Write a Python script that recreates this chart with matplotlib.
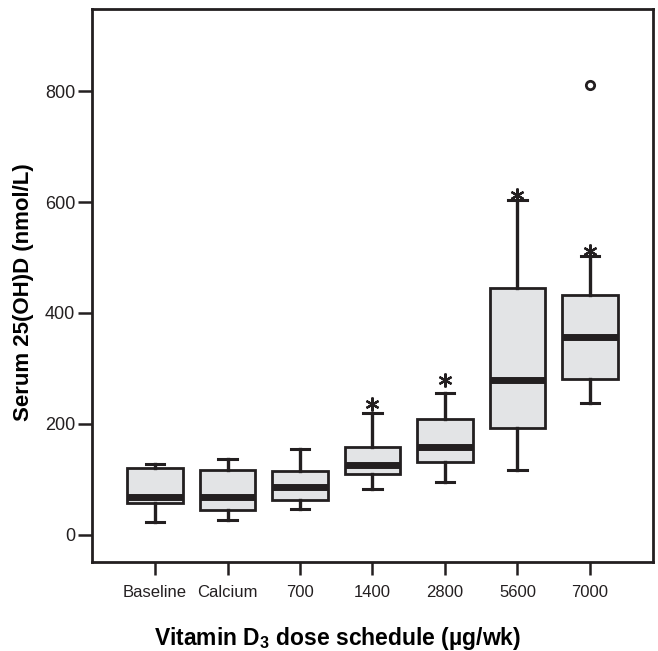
import matplotlib
matplotlib.use("Agg")
import matplotlib.pyplot as plt

categories = ["Baseline", "Calcium", "700", "1400", "2800", "5600", "7000"]
whislo = [23, 26, 47, 83, 95, 117, 237]
q1 = [57, 44, 62, 109, 131, 193, 281]
med = [69, 68, 87, 126, 158, 279, 356]
q3 = [120, 117, 115, 159, 208, 445, 432]
whishi = [127, 137, 154, 219, 255, 604, 503]
outliers = [[], [], [], [], [], [], [811]]
# significance asterisks (category index, plotted level)
star_idx = [3, 4, 5, 6]
star_val = [236, 279, 613, 512]
yticks = [0, 200, 400, 600, 800]

plt.rcParams['font.family'] = ['Liberation Sans', 'DejaVu Sans']
fig = plt.figure(figsize=(6.58, 6.51), dpi=100)
ax = fig.add_axes([0.1398, 0.1367, 0.8526, 0.8495])

dark = "#231f20"
stats = []
for i, c in enumerate(categories):
    stats.append(dict(label=c, whislo=whislo[i], q1=q1[i], med=med[i], q3=q3[i],
                      whishi=whishi[i], fliers=outliers[i]))
pos = list(range(1, len(categories) + 1))
ax.bxp(stats, positions=pos, widths=0.77, patch_artist=True, showfliers=True,
       boxprops=dict(facecolor="#e3e4e6", edgecolor=dark, linewidth=2),
       medianprops=dict(color=dark, linewidth=5, solid_capstyle="butt"),
       whiskerprops=dict(color=dark, linewidth=2.4),
       capprops=dict(color=dark, linewidth=2.2),
       capwidths=0.25,
       flierprops=dict(marker="o", markersize=6, markerfacecolor="white",
                       markeredgecolor=dark, markeredgewidth=2))

ax.plot([pos[i] for i in star_idx], star_val, linestyle="none",
        marker=(6, 2, 0), markersize=10, markeredgewidth=1.6,
        color=dark, zorder=5)

ax.set_xlim(0.13, 7.87)
ax.set_ylim(-49, 948)
ax.set_yticks(yticks)
ax.set_xticks(pos)
ax.set_xticklabels(categories)
for sp in ax.spines.values():
    sp.set_linewidth(2)
    sp.set_color(dark)
ax.tick_params(axis="y", length=10, width=1.8, labelsize=13, pad=2, colors=dark)
ax.tick_params(axis="x", length=9.4, width=1.8, labelsize=12, pad=7, colors=dark)
ax.set_ylabel("Serum 25(OH)D (nmol/L)", fontsize=16, fontweight="bold", labelpad=6)
ax.yaxis.set_label_coords(-0.104, 0.488)
ax.set_xlabel("Vitamin D$_\\mathregular{3}$ dose schedule (\u00b5g/wk)", fontsize=16.5,
              fontweight="bold", labelpad=18)
ax.xaxis.label.set_x(0.437)
fig.savefig("out.png", dpi=100)
